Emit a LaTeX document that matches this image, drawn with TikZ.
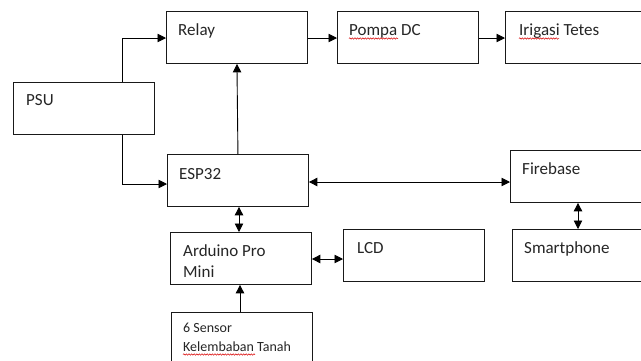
\documentclass[tikz,border=0pt]{standalone}
\usepackage{fontspec}
\setmainfont{Carlito}
\usetikzlibrary{arrows.meta,decorations.pathmorphing}
\tikzset{
  box/.style={draw=black!90, line width=0.9pt, inner sep=0pt, anchor=north west,
              minimum width=141pt, minimum height=52pt},
  lbl/.style={anchor=base west, inner sep=0pt, text=black!85,
              font=\fontsize{17}{21}\selectfont},
  slbl/.style={anchor=base west, inner sep=0pt, text=black!85, align=left,
              font=\fontsize{14}{19}\selectfont},
  tip/.tip={Triangle[length=8.5pt,width=8.5pt]},
  arr/.style={line width=0.9pt, -tip},
  darr/.style={line width=0.9pt, tip-tip},
  squig/.style={draw=red!85!black, line width=0.5pt,
               decorate, decoration={snake, amplitude=0.7pt, segment length=2.6pt}}
}
\begin{document}
\begin{tikzpicture}[x=1pt,y=-1pt]
\clip (0,0) rectangle (641,360);
\fill[white] (0,0) rectangle (641,360);
% boxes
\node[box] (relay) at (166,11) {};
\node[box] (pompa) at (337,11) {};
\node[box] (irig)  at (505,11) {};
\node[box] (psu)   at (13,82) {};
\node[box] (esp)   at (167,154) {};
\node[box] (fb)    at (510,150) {};
\node[box] (ard)   at (170,232) {};
\node[box] (lcd)   at (343,229) {};
\node[box] (sp)    at (512,229) {};
\node[box] (sens)  at (171,312) {};
% labels
\node[lbl] (relayT) at (178,35) {Relay};
\node[lbl] (pompaT) at (349,35) {Pompa DC};
\node[lbl] (irigT)  at (519,35) {Irigasi Tetes};
\node[lbl] (psuT)   at (26,105) {PSU};
\node[lbl] (espT)   at (179,179) {ESP32};
\node[lbl] (fbT)    at (522,174) {Firebase};
\node[lbl] (ardT)   at (183,256) {Arduino Pro};
\node[lbl] (ardT2)  at (183,277) {Mini};
\node[lbl] (lcdT)   at (357,253) {LCD};
\node[lbl] (spT)    at (524,253) {Smartphone};
\node[slbl] (sensT) at (183,332) {6 Sensor};
\node[slbl] (sensT2) at (183,351) {Kelembaban Tanah};
% spell-check underlines
\draw[squig] (349,38.5) -- (398,38.5);
\draw[squig] (519,38.5) -- (559,38.5);
\draw[squig] (183,354.5) -- (255,354.5);
% connectors
\draw[arr] (psu.north -| 122,0) |- (relay.west |- 0,38);
\draw[arr] (psu.south -| 122,0) |- (esp.west |- 0,184);
\draw[arr] (esp.north) -- (relay.south);
\draw[arr] (relay.east |- 0,38) -- (pompa.west |- 0,38);
\draw[arr] (pompa.east |- 0,38) -- (irig.west |- 0,38);
\draw[darr] (esp.east |- 0,182) -- (fb.west |- 0,182);
\draw[darr] (esp.south -| 239,0) -- (ard.north -| 239,0);
\draw[darr] (ard.east |- 0,259) -- (lcd.west |- 0,259);
\draw[arr] (sens.north -| 240,0) -- (ard.south -| 240,0);
\draw[darr] (fb.south -| 578,0) -- (sp.north -| 578,0);
\end{tikzpicture}
\end{document}
